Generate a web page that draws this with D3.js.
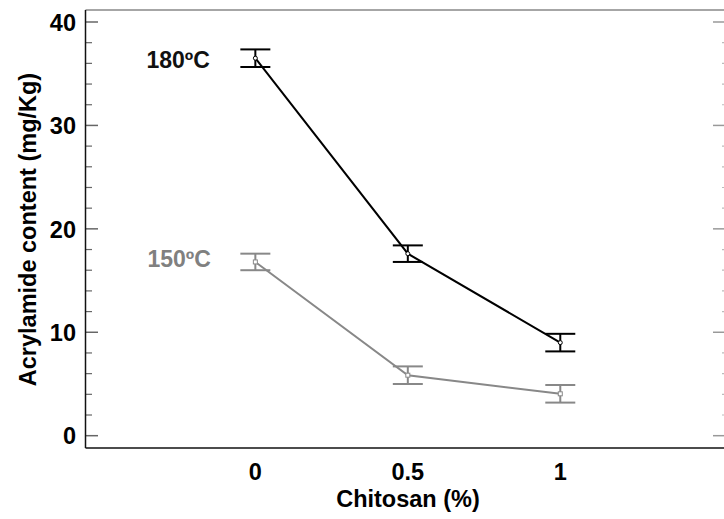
<!DOCTYPE html>
<html>
<head>
<meta charset="utf-8">
<script src="https://cdn.jsdelivr.net/npm/d3@7"></script>
<style>
  body { margin: 0; background: #fff; }
  svg { display: block; }
  text { font-family: "Liberation Sans", Arial, sans-serif; font-weight: bold; }
</style>
</head>
<body>
<div id="chart"></div>
<script>
const chitosan = [0, 0.5, 1];
const xTickLabels = ["0", "0.5", "1"];
const yTicks = [0, 10, 20, 30, 40];
const series = ["180ºC", "150ºC"];
const mean180 = [36.5, 17.6, 9.0];
const err180 = [0.85, 0.8, 0.85];
const mean150 = [16.8, 5.85, 4.05];
const err150 = [0.8, 0.85, 0.85];

const W = 724, H = 519;
const plot = { left: 85.5, right: 728, top: 10, bottom: 448 };
const fs = "23.5px";

const svg = d3.select("#chart").append("svg")
    .attr("width", W)
    .attr("height", H);

const x = d3.scaleLinear().domain([-0.557, 1.55]).range([plot.left, plot.right]);
const y = d3.scaleLinear().domain([-1.19, 41.16]).range([plot.bottom, plot.top]);

const minor = d3.range(0, 41, 2).filter(v => v % 10 !== 0);

// left ticks (inward)
const gl = svg.append("g").attr("transform", `translate(${plot.left},0)`);
gl.selectAll("line.major").data(yTicks).join("line").attr("class", "major")
    .attr("x1", 0).attr("x2", 12.5)
    .attr("y1", d => y(d)).attr("y2", d => y(d))
    .attr("stroke", "#666").attr("stroke-width", 1.5);
gl.selectAll("line.minor").data(minor).join("line").attr("class", "minor")
    .attr("x1", 0).attr("x2", 6.5)
    .attr("y1", d => y(d)).attr("y2", d => y(d))
    .attr("stroke", "#666").attr("stroke-width", 1.2);
gl.selectAll("text").data(yTicks).join("text")
    .attr("x", -9.5).attr("y", d => y(d))
    .attr("dy", "0.37em")
    .attr("text-anchor", "end")
    .style("font-size", fs)
    .text(d => d);

// right ticks (inward, faint)
const gr = svg.append("g").attr("transform", `translate(${plot.right},0)`);
gr.selectAll("line.major").data(yTicks).join("line").attr("class", "major")
    .attr("x1", 0).attr("x2", -15)
    .attr("y1", d => y(d)).attr("y2", d => y(d))
    .attr("stroke", "#999").attr("stroke-width", 1.5);
gr.selectAll("line.minor").data(minor).join("line").attr("class", "minor")
    .attr("x1", 0).attr("x2", -6)
    .attr("y1", d => y(d)).attr("y2", d => y(d))
    .attr("stroke", "#bbb").attr("stroke-width", 1.2);

// frame
svg.append("line").attr("x1", plot.left).attr("x2", plot.right).attr("y1", plot.top).attr("y2", plot.top)
    .attr("stroke", "#888").attr("stroke-width", 1.5);
svg.append("line").attr("x1", plot.left).attr("x2", plot.right).attr("y1", plot.bottom).attr("y2", plot.bottom)
    .attr("stroke", "#111").attr("stroke-width", 1.5);
svg.append("line").attr("x1", plot.left).attr("x2", plot.left).attr("y1", plot.top).attr("y2", plot.bottom)
    .attr("stroke", "#111").attr("stroke-width", 1.5);

// x tick labels
svg.append("g").selectAll("text").data(chitosan).join("text")
    .attr("x", d => x(d))
    .attr("y", 480)
    .attr("text-anchor", "middle")
    .style("font-size", fs)
    .text((d, i) => xTickLabels[i]);

svg.append("text")
    .attr("x", 408).attr("y", 506.5)
    .attr("text-anchor", "middle")
    .style("font-size", fs)
    .text("Chitosan (%)");

svg.append("text")
    .attr("transform", `translate(36,229.5) rotate(-90)`)
    .attr("text-anchor", "middle")
    .style("font-size", fs)
    .text("Acrylamide content (mg/Kg)");

// series
const line = d3.line().x((d, i) => x(chitosan[i])).y(d => y(d));

function drawSeries(means, errs, color, width, square) {
    const g = svg.append("g");
    g.append("path")
        .datum(means)
        .attr("d", line)
        .attr("fill", "none")
        .attr("stroke", color)
        .attr("stroke-width", width);
    const eb = g.selectAll("g.eb").data(means).join("g");
    eb.append("line")
        .attr("x1", (d, i) => x(chitosan[i])).attr("x2", (d, i) => x(chitosan[i]))
        .attr("y1", (d, i) => y(d + errs[i])).attr("y2", (d, i) => y(d - errs[i]))
        .attr("stroke", color).attr("stroke-width", width);
    [1, -1].forEach(s => {
        eb.append("line")
            .attr("x1", (d, i) => x(chitosan[i]) - 15).attr("x2", (d, i) => x(chitosan[i]) + 15)
            .attr("y1", (d, i) => y(d + s * errs[i])).attr("y2", (d, i) => y(d + s * errs[i]))
            .attr("stroke", color).attr("stroke-width", width);
    });
    if (square) {
        eb.append("rect")
            .attr("x", (d, i) => x(chitosan[i]) - 2).attr("y", d => y(d) - 2)
            .attr("width", 4).attr("height", 4)
            .attr("fill", "#fff")
            .attr("stroke", color).attr("stroke-width", 1);
    } else {
        eb.append("circle")
            .attr("cx", (d, i) => x(chitosan[i])).attr("cy", d => y(d))
            .attr("r", 2)
            .attr("fill", "#fff")
            .attr("stroke", color).attr("stroke-width", 1);
    }
}

drawSeries(mean150, err150, "#888", 2, true);
drawSeries(mean180, err180, "#000", 2, false);

svg.append("text")
    .attr("x", 146.5).attr("y", y(mean180[0]) + 10.2)
    .style("font-size", "23px")
    .attr("fill", "#111")
    .text(series[0]);
svg.append("text")
    .attr("x", 147.5).attr("y", y(mean150[0]) + 5.5)
    .style("font-size", "23px")
    .attr("fill", "#808080")
    .text(series[1]);
</script>
</body>
</html>
